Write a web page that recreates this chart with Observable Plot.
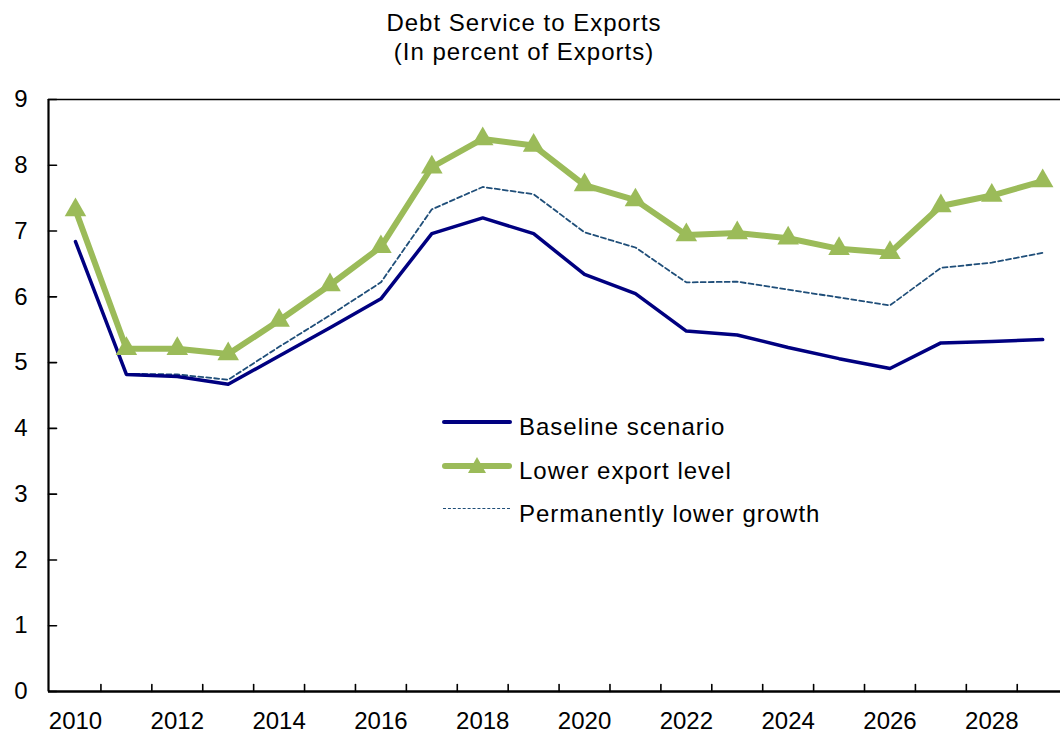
<!DOCTYPE html>
<html>
<head>
<meta charset="utf-8">
<script src="https://cdn.jsdelivr.net/npm/d3@7"></script>
<script src="https://cdn.jsdelivr.net/npm/@observablehq/plot@0.6"></script>
<style>
  body { margin: 0; background: #fff; font-family: Arial, "Liberation Sans", sans-serif; }
  #wrap { position: relative; width: 1060px; height: 742px; overflow: hidden; background: #fff; }
  #title { height: 70px; box-sizing: border-box; padding-top: 8px; width: 1048px; text-align: center;
           font-size: 24px; line-height: 29px; letter-spacing: 1px; color: #000; }
  #legend { position: absolute; left: 442px; top: 405px; width: 480px; height: 135px;
            font-size: 24px; line-height: 43.5px; letter-spacing: 1px; color: #000; }
  .row { position: absolute; left: 0; width: 480px; height: 43.5px; }
  .sw { position: absolute; left: 0; width: 70px; }
  .lbl { position: absolute; left: 77px; top: 0; white-space: nowrap; }
  .tri { position: absolute; left: 26px; width: 0; height: 0; border-left: 9px solid transparent;
         border-right: 9px solid transparent; border-bottom: 16px solid #9BBB59; }
</style>
</head>
<body>
<div id="wrap">
  <div id="title">Debt Service to Exports<br>(In percent of Exports)</div>
  <div id="chart"></div>
  <div id="legend"></div>
</div>
<script>
// ---- data ----
const years = [2010, 2011, 2012, 2013, 2014, 2015, 2016, 2017, 2018, 2019,
               2020, 2021, 2022, 2023, 2024, 2025, 2026, 2027, 2028, 2029];
const baseline = [6.84, 4.82, 4.79, 4.67, 5.10, 5.53, 5.97, 6.96, 7.20, 6.96,
                  6.34, 6.05, 5.48, 5.42, 5.23, 5.06, 4.91, 5.30, 5.32, 5.35];
const lowerExport = [7.32, 5.21, 5.21, 5.13, 5.64, 6.18, 6.76, 7.97, 8.40, 8.30,
                     7.70, 7.47, 6.94, 6.97, 6.89, 6.73, 6.67, 7.38, 7.54, 7.76];
const permLower = [null, 4.83, 4.82, 4.74, 5.24, 5.72, 6.22, 7.33, 7.67, 7.56,
                   6.98, 6.75, 6.22, 6.23, 6.11, 5.99, 5.87, 6.44, 6.52, 6.67];
const seriesNames = ["Baseline scenario", "Lower export level", "Permanently lower growth"];
const xLabelYears = [2010, 2012, 2014, 2016, 2018, 2020, 2022, 2024, 2026, 2028];
const xTickPositions = [2010.5, 2011.5, 2012.5, 2013.5, 2014.5, 2015.5, 2016.5, 2017.5, 2018.5,
                        2019.5, 2020.5, 2021.5, 2022.5, 2023.5, 2024.5, 2025.5, 2026.5, 2027.5, 2028.5];
const yTicks = [0, 1, 2, 3, 4, 5, 6, 7, 8, 9];
const xDomain = [2009.47, 2029.35];
const yDomain = [0, 9];

// ---- colours ----
const cBase = "#000080", cLower = "#9BBB59", cPerm = "#1F4E79";

const rows = years.map((y, i) => ({year: y, baseline: baseline[i], lower: lowerExport[i]}));
const permRows = years.map((y, i) => ({year: y, v: permLower[i]})).filter(d => d.v != null);

const tickShape = { draw(context, l) { context.moveTo(0, 0); context.lineTo(0, -l); } };

const chart = Plot.plot({
  width: 1060, height: 672,
  marginLeft: 48, marginRight: 0, marginTop: 29, marginBottom: 51,
  x: { domain: xDomain, label: null },
  y: { domain: yDomain, label: null },
  style: { fontFamily: "Arial, 'Liberation Sans', sans-serif", fontSize: "24px",
           color: "#000", background: "#fff", overflow: "visible" },
  marks: [
    Plot.line(permRows, { x: "year", y: "v", stroke: cPerm, strokeWidth: 1.8, strokeDasharray: "5,3" }),
    Plot.line(rows, { x: "year", y: "baseline", stroke: cBase, strokeWidth: 3.5, strokeLinejoin: "round" }),
    Plot.line(rows, { x: "year", y: "lower", stroke: cLower, strokeWidth: 6, strokeLinejoin: "round" }),
    Plot.dot(rows, { x: "year", y: "lower", symbol: "triangle", r: 8, fill: cLower, stroke: "none" }),
    Plot.ruleY([yDomain[1]], { stroke: "#000", strokeWidth: 1.6 }),
    Plot.ruleY([yDomain[0]], { stroke: "#000", strokeWidth: 2.4 }),
    Plot.ruleX([xDomain[0]], { stroke: "#000", strokeWidth: 2.2 }),
    Plot.vector(xTickPositions, { x: d => d, frameAnchor: "bottom", length: 7, anchor: "start",
                                  shape: tickShape, stroke: "#000", strokeWidth: 1.6 }),
    Plot.vector(yTicks, { y: d => d, frameAnchor: "left", length: 8, rotate: 90, anchor: "start",
                          shape: tickShape, stroke: "#000", strokeWidth: 1.6 }),
    Plot.axisX(xLabelYears, { tickSize: 0, tickPadding: 20, fontSize: 24, tickFormat: d => String(d), label: null }),
    Plot.axisY(yTicks, { tickSize: 0, tickPadding: 21, fontSize: 24, tickFormat: d => String(d), label: null })
  ]
});
document.getElementById("chart").appendChild(chart);

// ---- legend ----
const legend = document.getElementById("legend");
const legendDefs = [
  { name: seriesNames[0], kind: "base" },
  { name: seriesNames[1], kind: "lower" },
  { name: seriesNames[2], kind: "perm" }
];
legendDefs.forEach((d, i) => {
  const row = document.createElement("div");
  row.className = "row";
  row.style.top = (i * 43.5) + "px";
  const sw = document.createElement("div");
  sw.className = "sw";
  if (d.kind === "base") {
    sw.style.top = (17 - 1.75) + "px"; sw.style.height = "3.5px"; sw.style.background = cBase;
    sw.style.borderRadius = "2px";
  } else if (d.kind === "lower") {
    sw.style.top = (17 - 3) + "px"; sw.style.height = "6px"; sw.style.background = cLower;
    sw.style.borderRadius = "3px";
  } else {
    sw.style.top = (17 - 1) + "px"; sw.style.height = "0"; sw.style.borderTop = "1.8px dashed " + cPerm;
    sw.style.width = "67px"; sw.style.left = "1px";
  }
  row.appendChild(sw);
  if (d.kind === "lower") {
    const tri = document.createElement("div");
    tri.className = "tri";
    tri.style.top = "8.5px";
    row.appendChild(tri);
  }
  const lbl = document.createElement("div");
  lbl.className = "lbl";
  lbl.textContent = d.name;
  row.appendChild(lbl);
  legend.appendChild(row);
});
</script>
</body>
</html>
